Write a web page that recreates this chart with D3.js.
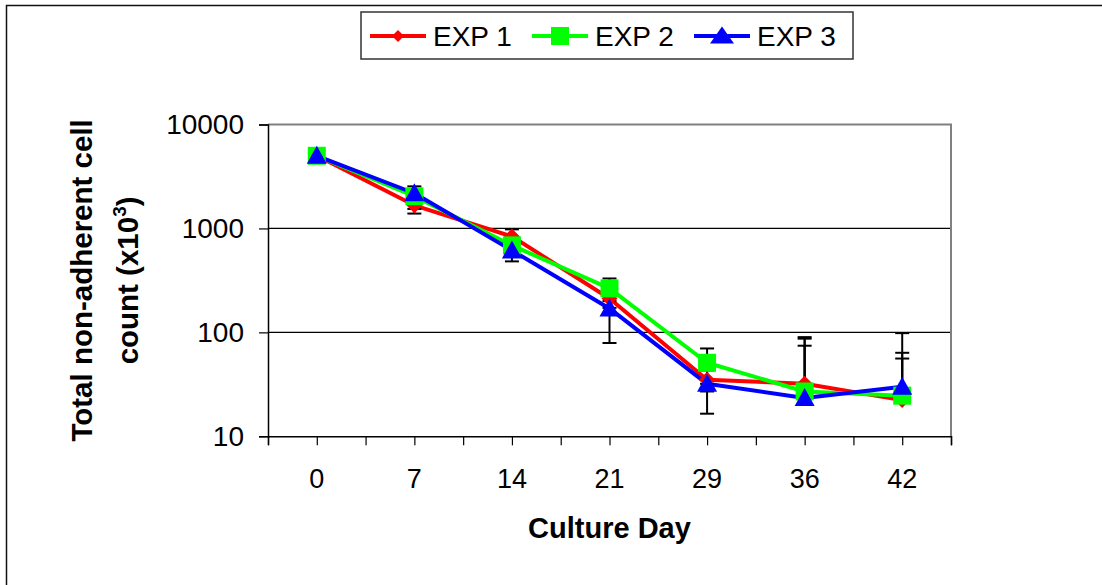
<!DOCTYPE html>
<html>
<head>
<meta charset="utf-8">
<script src="https://cdn.jsdelivr.net/npm/d3@7"></script>
<style>
  html, body { margin: 0; padding: 0; background: #fff; }
  svg { display: block; font-family: "Liberation Sans", Arial, sans-serif; }
</style>
</head>
<body>
<svg id="chart" width="1102" height="585"></svg>
<script>
// Culture days (categories)
const days = ["0", "7", "14", "21", "29", "36", "42"];

// Total non-adherent cell count (x10^3) per experiment
const exp1 = [5000, 1670, 838, 212, 35, 32, 22.3];
const exp2 = [5000, 2040, 687, 265, 51, 27, 24.6];
const exp3 = [5000, 2180, 615, 170, 32, 23.4, 30];

// Standard deviations (symmetric error bars)
const err1 = [250, 280, 142, 40, 8, 58, 76];
const err2 = [250, 500, 80, 65, 19, 60, 39];
const err3 = [250, 200, 133, 91, 15.5, 51, 26];

const yTicks = [10, 100, 1000, 10000];
const seriesNames = ["EXP 1", "EXP 2", "EXP 3"];
const seriesColors = ["#ff0000", "#00ff00", "#0000ff"];
const seriesShapes = ["diamond", "square", "triangle"];

const series = [exp1, exp2, exp3].map((vals, i) => ({
  name: seriesNames[i],
  color: seriesColors[i],
  shape: seriesShapes[i],
  points: vals.map((v, j) => ({ day: days[j], value: v, err: [err1, err2, err3][i][j] }))
}));

const svg = d3.select("#chart");
const plot = { left: 268, right: 951, top: 124.5, bottom: 436.3 };

const x = d3.scaleBand().domain(days).range([plot.left, plot.right]).padding(0);
const xc = d => x(d) + x.bandwidth() / 2;
const xHalf = d3.scaleLinear().domain([-0.5, days.length - 0.5]).range([plot.left, plot.right]);
const y = d3.scaleLog().domain([10, 10000]).range([plot.bottom, plot.top]);

// Outer chart frame
svg.append("rect")
  .attr("x", 6.5).attr("y", 5.5)
  .attr("width", 1200).attr("height", 700)
  .attr("fill", "none").attr("stroke", "#111").attr("stroke-width", 1.5);

// Horizontal gridlines
svg.append("g")
  .selectAll("line")
  .data(yTicks.filter(t => t > 10 && t < 10000))
  .join("line")
  .attr("x1", plot.left).attr("x2", plot.right)
  .attr("y1", d => y(d)).attr("y2", d => y(d))
  .attr("stroke", "#000").attr("stroke-width", 1.2);

// Plot-area border (top and right)
svg.append("path")
  .attr("d", `M${plot.left},${plot.top}H${plot.right}V${plot.bottom}`)
  .attr("fill", "none").attr("stroke", "#808080").attr("stroke-width", 2);

// Y axis
const yAxis = svg.append("g")
  .attr("transform", `translate(${plot.left},0)`)
  .call(d3.axisLeft(y).tickValues(yTicks).tickSize(9).tickPadding(15).tickFormat(d3.format("d")));
yAxis.select(".domain").attr("stroke", "#000").attr("stroke-width", 1.5);
yAxis.selectAll(".tick line").attr("stroke", "#000").attr("stroke-width", 1.2);
yAxis.selectAll(".tick text")
  .attr("font-size", 28).attr("fill", "#000")
  .attr("font-family", "Liberation Sans, Arial, sans-serif");

// X axis: tick marks at category centres and boundaries
const xTicks = svg.append("g")
  .attr("transform", `translate(0,${plot.bottom})`)
  .call(d3.axisBottom(xHalf).tickValues(d3.range(-0.5, days.length, 0.5)).tickSize(9).tickFormat(""));
xTicks.select(".domain").attr("stroke", "#000").attr("stroke-width", 1.5);
xTicks.selectAll(".tick line").attr("stroke", "#000").attr("stroke-width", 1.2);

// X axis: category labels
const xLabels = svg.append("g")
  .attr("transform", `translate(0,${plot.bottom})`)
  .call(d3.axisBottom(x).tickSize(0).tickPadding(33));
xLabels.select(".domain").remove();
xLabels.selectAll(".tick text")
  .attr("font-size", 27).attr("fill", "#000")
  .attr("font-family", "Liberation Sans, Arial, sans-serif");

// Axis titles
svg.append("text")
  .attr("x", (plot.left + plot.right) / 2).attr("y", 538)
  .attr("text-anchor", "middle")
  .attr("font-size", 29).attr("font-weight", "bold")
  .text("Culture Day");

const yTitle = svg.append("g")
  .attr("transform", `translate(0,${(plot.top + plot.bottom) / 2}) rotate(-90)`);
yTitle.append("text")
  .attr("x", 0).attr("y", 92)
  .attr("text-anchor", "middle")
  .attr("font-size", 29.5).attr("font-weight", "bold")
  .text("Total non-adherent cell");
const t2 = yTitle.append("text")
  .attr("x", 0).attr("y", 138)
  .attr("text-anchor", "middle")
  .attr("font-size", 29.5).attr("font-weight", "bold");
t2.append("tspan").text("count (x10");
t2.append("tspan").attr("font-size", 19).attr("dy", -12).text("3");
t2.append("tspan").attr("dy", 12).text(")");

// Marker shapes
function markerPath(shape, s) {
  if (shape === "diamond") return `M0,${-s.d}L${s.d},0L0,${s.d}L${-s.d},0Z`;
  if (shape === "square") return `M${-s.q},${-s.q}H${s.q}V${s.q}H${-s.q}Z`;
  return `M0,${-s.th / 2 - 1}L${s.tw / 2},${s.th / 2 - 1}H${-s.tw / 2}Z`;
}
const chartSize = { d: 8, q: 9, tw: 20, th: 18 };
const legendSize = { d: 6, q: 9, tw: 24, th: 17 };

const line = d3.line().x(p => xc(p.day)).y(p => y(p.value));

// Series lines
series.forEach(s => {
  svg.append("path")
    .datum(s.points)
    .attr("d", line)
    .attr("fill", "none")
    .attr("stroke", s.color)
    .attr("stroke-width", 4)
    .attr("stroke-linejoin", "round");
});

// Error bars (lower part omitted where it falls outside the log axis)
const cap = 7;
const eb = svg.append("g").attr("stroke", "#000").attr("stroke-width", 2);
series.forEach(s => {
  s.points.forEach(p => {
    const cx = xc(p.day);
    const hi = p.value + p.err;
    const lo = p.value - p.err;
    eb.append("line").attr("x1", cx).attr("x2", cx).attr("y1", y(p.value)).attr("y2", y(hi));
    eb.append("line").attr("x1", cx - cap).attr("x2", cx + cap).attr("y1", y(hi)).attr("y2", y(hi));
    if (lo >= 10) {
      eb.append("line").attr("x1", cx).attr("x2", cx).attr("y1", y(p.value)).attr("y2", y(lo));
      eb.append("line").attr("x1", cx - cap).attr("x2", cx + cap).attr("y1", y(lo)).attr("y2", y(lo));
    }
  });
});

// Markers
series.forEach(s => {
  svg.append("g")
    .selectAll("path")
    .data(s.points)
    .join("path")
    .attr("transform", p => `translate(${xc(p.day)},${y(p.value)})`)
    .attr("d", markerPath(s.shape, chartSize))
    .attr("fill", s.color);
});

// Legend
const legend = svg.append("g");
legend.append("rect")
  .attr("x", 361).attr("y", 12).attr("width", 492).attr("height", 47)
  .attr("fill", "#fff").attr("stroke", "#333").attr("stroke-width", 1.5);
const item = legend.selectAll("g.item")
  .data(series)
  .join("g")
  .attr("class", "item")
  .attr("transform", (d, i) => `translate(${370 + i * 162},36)`);
item.append("line")
  .attr("x1", 0).attr("x2", 56).attr("y1", 0).attr("y2", 0)
  .attr("stroke", d => d.color).attr("stroke-width", 4);
item.append("path")
  .attr("transform", "translate(28,0)")
  .attr("d", d => markerPath(d.shape, legendSize))
  .attr("fill", d => d.color);
item.append("text")
  .attr("x", 63).attr("y", 10)
  .attr("font-size", 28).attr("fill", "#000")
  .text(d => d.name);
</script>
</body>
</html>
